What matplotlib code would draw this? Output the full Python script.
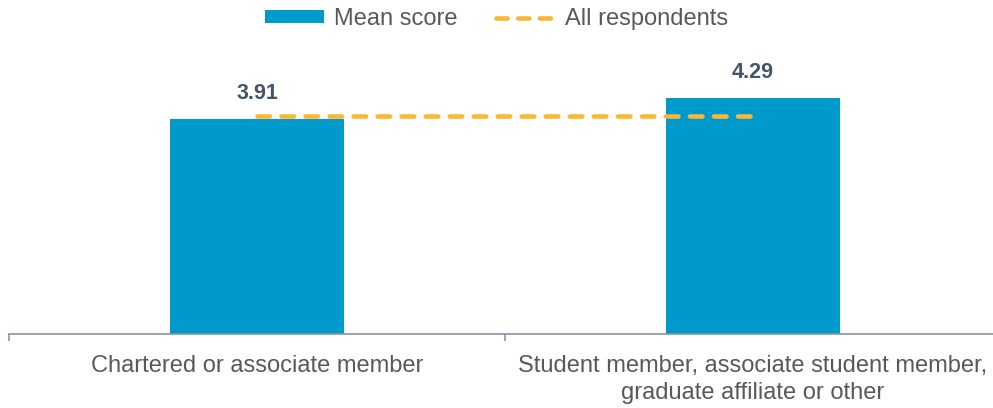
import matplotlib
matplotlib.use("Agg")
import matplotlib.pyplot as plt
from matplotlib.patches import Patch
from matplotlib.lines import Line2D

categories = ["Chartered or associate member",
              "Student member, associate student member,\ngraduate affiliate or other"]
mean_scores = [3.91, 4.29]
all_respondents = 3.96
series_names = ["Mean score", "All respondents"]

BAR_COLOR = "#0099CC"
LINE_COLOR = "#FBB634"
TEXT_COLOR = "#595959"
LABEL_COLOR = "#44546A"
AXIS_COLOR = "#8497A8"

plt.rcParams['font.family'] = ['Liberation Sans', 'DejaVu Sans']
plt.rcParams['lines.scale_dashes'] = False

fig = plt.figure(figsize=(9.93, 4.08), dpi=100)
ax = fig.add_axes([9/993, 74/408, 992/993, 275/408])

x = list(range(len(categories)))
bars = ax.bar(x, mean_scores, width=0.35, color=BAR_COLOR, zorder=2)
ax.plot([x[0], x[-1]], [all_respondents, all_respondents], color=LINE_COLOR,
        lw=3.3, linestyle=(0, (9.0, 8.3)), dash_capstyle='round', zorder=3)

for xi, v in zip(x, mean_scores):
    ax.annotate(f"{v:.2f}", xy=(xi, v), xytext=(0, 14.5), textcoords='offset points',
                ha='center', va='baseline', fontsize=15.5, fontweight='bold',
                color=LABEL_COLOR)

ax.set_xlim(-0.5, len(categories) - 0.5)
ax.set_ylim(0, 5)
for s in ['top', 'right', 'left']:
    ax.spines[s].set_visible(False)
ax.spines['bottom'].set_color(AXIS_COLOR)
ax.spines['bottom'].set_linewidth(1.2)
ax.set_yticks([])
ax.set_xticks([i - 0.5 for i in range(len(categories) + 1)], minor=False)
ax.set_xticklabels([])
ax.tick_params(axis='x', which='major', direction='out', length=5, width=1.2, color=AXIS_COLOR)
ax.set_xticks(x, minor=True)
ax.set_xticklabels(categories, minor=True, fontsize=17, color=TEXT_COLOR, linespacing=1.3)
ax.tick_params(axis='x', which='minor', length=0, pad=15)

handles = [Patch(facecolor=BAR_COLOR, edgecolor='none', label=series_names[0]),
           Line2D([0], [0], color=LINE_COLOR, lw=3.3, linestyle=(0, (8.0, 7.6)),
                  dash_capstyle='round', label=series_names[1])]
fig.legend(handles=handles, loc='center', bbox_to_anchor=(0.5, 1 - 19/408), ncol=2,
           frameon=False, fontsize=17, labelcolor=TEXT_COLOR, handlelength=2.5,
           handleheight=0.42, handletextpad=0.45, columnspacing=1.6)

fig.savefig("out.png", dpi=100)
